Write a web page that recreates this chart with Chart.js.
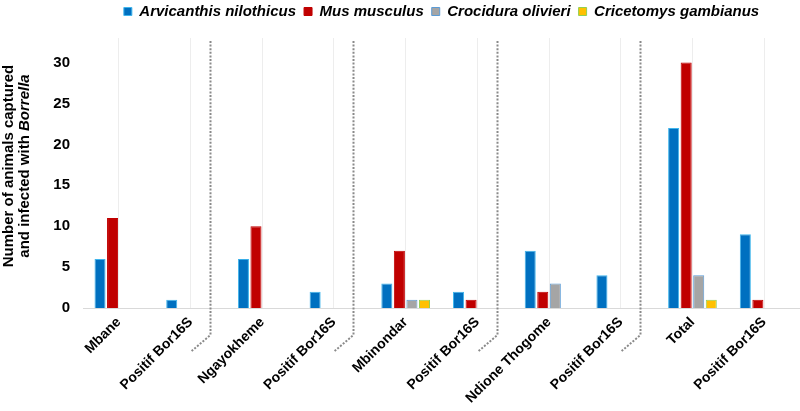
<!DOCTYPE html>
<html><head><meta charset="utf-8">
<script src="https://cdn.jsdelivr.net/npm/chart.js@4"></script>
<style>html,body{margin:0;padding:0;background:#fff}</style>
</head><body>
<canvas id="c" width="800" height="411"></canvas>
<script>
const categories = ['Mbane','Positif Bor16S','Ngayokheme','Positif Bor16S','Mbinondar','Positif Bor16S','Ndione Thogome','Positif Bor16S','Total','Positif Bor16S'];
const seriesNames = ['Arvicanthis nilothicus','Mus musculus','Crocidura olivieri','Cricetomys gambianus'];
const arvicanthis = [6, 1, 6, 2, 3, 2, 7, 4, 22, 9];
const mus = [11, null, 10, null, 7, 1, 2, null, 30, 1];
const crocidura = [null, null, null, null, 1, null, 3, null, 4, null];
const cricetomys = [null, null, null, null, 1, null, null, null, 1, null];
const yTickValues = [0, 5, 10, 15, 20, 25, 30];
const yTitleLine1 = 'Number of animals captured';
const yTitleLine2a = 'and infected with ';
const yTitleLine2b = 'Borrella';
const separatorAfter = [1, 3, 5, 7];

const FONT = "'Liberation Sans', Arial, sans-serif";
const fills = ['#0070C0', '#C00000', '#A5A5A5', '#FFC000'];
const borders = ['#3FB5EC', '#C00000', '#5B9BD5', '#92D050'];
const values = [arvicanthis, mus, crocidura, cricetomys];

const yTitlePlugin = {
  id: 'yTitle',
  afterDraw(chart) {
    const ctx = chart.ctx;
    const ca = chart.chartArea;
    const cy = (ca.top + ca.bottom) / 2 - 7;
    ctx.save();
    ctx.fillStyle = '#000';
    ctx.textBaseline = 'middle';
    ctx.translate(9, cy);
    ctx.rotate(-Math.PI / 2);
    ctx.font = 'bold 15px ' + FONT;
    ctx.textAlign = 'center';
    ctx.fillText(yTitleLine1, 0, 0);
    const w1 = ctx.measureText(yTitleLine2a).width;
    ctx.font = 'italic bold 15px ' + FONT;
    const w2 = ctx.measureText(yTitleLine2b).width;
    const start = -(w1 + w2) / 2;
    ctx.textAlign = 'left';
    ctx.font = 'bold 15px ' + FONT;
    ctx.fillText(yTitleLine2a, start, 16);
    ctx.font = 'italic bold 15px ' + FONT;
    ctx.fillText(yTitleLine2b, start + w1, 16);
    ctx.restore();
  }
};

const separatorPlugin = {
  id: 'separators',
  afterDraw(chart) {
    const ctx = chart.ctx;
    const xs = chart.scales.x;
    const ca = chart.chartArea;
    const cw = xs.getPixelForValue(1) - xs.getPixelForValue(0);
    ctx.save();
    ctx.strokeStyle = '#8a8a8a';
    ctx.lineWidth = 2;
    ctx.setLineDash([2, 1.6]);
    separatorAfter.forEach(k => {
      const x = Math.round(xs.getPixelForValue(k) + cw * 0.27) + 0.5;
      ctx.beginPath();
      ctx.moveTo(x, ca.top + 3);
      ctx.lineTo(x, ca.bottom + 27);
      ctx.lineTo(x - 20, ca.bottom + 44);
      ctx.stroke();
    });
    ctx.restore();
  }
};

const legendFitPlugin = {
  id: 'legendFit',
  afterInit(chart) {
    const lg = chart.legend;
    if (!lg) return;
    const orig = lg.fit.bind(lg);
    lg.fit = function() { orig(); this.height = 42; };
  }
};

new Chart(document.getElementById('c'), {
  type: 'bar',
  data: {
    labels: categories,
    datasets: seriesNames.map((n, i) => ({
      label: n,
      data: values[i],
      backgroundColor: fills[i],
      borderColor: borders[i],
      borderWidth: 1,
      categoryPercentage: 0.70,
      barPercentage: 0.88
    }))
  },
  options: {
    responsive: false,
    animation: false,
    devicePixelRatio: 1,
    layout: { padding: { top: -4, left: 0, right: 0, bottom: 0 } },
    plugins: {
      tooltip: { enabled: false },
      legend: {
        position: 'top',
        fullSize: false,
        labels: {
          boxWidth: 8,
          boxHeight: 8,
          padding: 8,
          color: '#000',
          font: { family: FONT, size: 15, weight: 'bold', style: 'italic' }
        }
      }
    },
    scales: {
      x: {
        offset: true,
        grid: { display: true, offset: false, color: '#ededed', drawTicks: false, lineWidth: 1 },
        border: { display: true, color: '#d9d9d9', width: 1 },
        ticks: {
          autoSkip: false, maxRotation: 45, minRotation: 45, padding: 6,
          color: '#000', font: { family: FONT, size: 14, weight: 'bold' }
        },
        afterFit(scale) { scale.height = 103; }
      },
      y: {
        min: 0, max: 33,
        grid: { display: false, drawTicks: false },
        border: { display: false },
        ticks: {
          stepSize: 5, padding: 13, color: '#000',
          font: { family: FONT, size: 15, weight: 'bold' }
        },
        afterBuildTicks(scale) {
          scale.ticks = yTickValues.map(v => ({ value: v }));
        },
        afterFit(scale) { scale.width = 83; }
      }
    }
  },
  plugins: [legendFitPlugin, yTitlePlugin, separatorPlugin]
});
</script>
</body></html>
